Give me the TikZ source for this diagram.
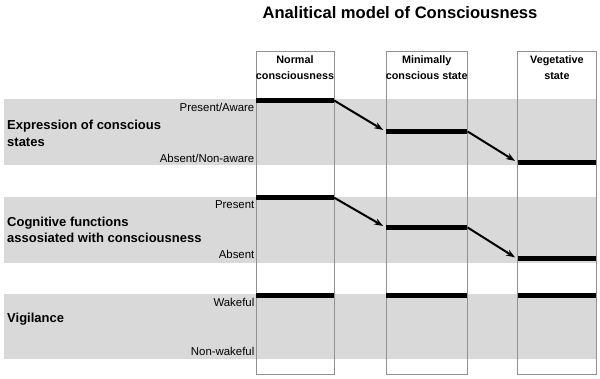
\documentclass[tikz,border=0pt]{standalone}
\usepackage{fontspec}
\setmainfont{Liberation Sans}
\usepackage{tikz}
\newcommand{\barheight}{5pt}
\newcommand{\colheight}{322.6pt}
\definecolor{bandGray}{RGB}{217,217,217}
\definecolor{boxGray}{RGB}{145,145,145}
\usetikzlibrary{arrows.meta,positioning}
\tikzset{
  x=1pt,y=-1pt,
  band/.style={fill=bandGray,draw=none},
  colbox/.style={draw=boxGray,line width=0.9pt,shape=rectangle,minimum height=\colheight,inner sep=0},
  colhead/.style={font=\fontsize{10.8}{16}\selectfont\bfseries,align=center,inner sep=0},
  levelbar/.style={fill=black,shape=rectangle,minimum height=\barheight,inner sep=0},
  level/.style={font=\fontsize{11.4}{13}\selectfont,anchor=east,inner sep=0},
  dimension/.style={font=\fontsize{13}{16.3}\selectfont\bfseries,align=left,anchor=west,inner sep=0},
  change/.style={draw,line width=2pt,-{Stealth[length=9pt,width=6.5pt]},shorten >=3pt},
}
\begin{document}
\begin{tikzpicture}
  \useasboundingbox (0,0) rectangle (600,379);
  \node (title) at (400,13) {\fontsize{16.6}{20}\selectfont\bfseries Analitical model of Consciousness};

  \fill[band] (4,99) rectangle (597,165);
  \fill[band] (4,196.7) rectangle (597,262.7);
  \fill[band] (4,294) rectangle (597,359.3);

  \node (nc) [colbox,minimum width=78pt] at (295,213) {};
  \node (mcs) [colbox,minimum width=81.5pt] at (426.7,213) {};
  \node (vs) [colbox,minimum width=78.3pt] at (556.9,213) {};
  \node (nchead) [colhead,below=4.3pt of nc.north] {Normal\\consciousness};
  \node (mcshead) [colhead,below=4.3pt of mcs.north] {Minimally\\conscious state};
  \node (vshead) [colhead,below=4.3pt of vs.north] {Vegetative\\state};

  \node (expr) [dimension] at (7,133.3) {Expression of conscious\\states};
  \node (cogn) [dimension] at (7,229.7) {Cognitive functions\\assosiated with consciousness};
  \node (vigi) [dimension] at (7,319) {Vigilance};

  \node (exprhi) [level] at (254.5,107) {Present/Aware};
  \node (exprlo) [level] at (254.5,158) {Absent/Non-aware};
  \node (cognhi) [level] at (254.5,205) {Present};
  \node (cognlo) [level] at (254.5,254) {Absent};
  \node (vigihi) [level] at (254.5,302.5) {Wakeful};
  \node (vigilo) [level] at (254.5,351) {Non-wakeful};

  \node (ncexpr) [levelbar,minimum width=78pt] at (nc |- 0,100.5) {};
  \node (mcsexpr) [levelbar,minimum width=81.5pt] at (mcs |- 0,131.5) {};
  \node (vsexpr) [levelbar,minimum width=78.3pt] at (vs |- 0,162.5) {};
  \node (nccogn) [levelbar,minimum width=78pt] at (nc |- 0,197.7) {};
  \node (mcscogn) [levelbar,minimum width=81.5pt] at (mcs |- 0,227.5) {};
  \node (vscogn) [levelbar,minimum width=78.3pt] at (vs |- 0,259) {};
  \node (ncvigi) [levelbar,minimum width=78pt] at (nc |- 0,296) {};
  \node (mcsvigi) [levelbar,minimum width=81.5pt] at (mcs |- 0,296) {};
  \node (vsvigi) [levelbar,minimum width=78.3pt] at (vs |- 0,296) {};

  \draw[change] (ncexpr.east) -- (mcsexpr.west);
  \draw[change] (mcsexpr.east) -- (vsexpr.west);
  \draw[change] (nccogn.east) -- (mcscogn.west);
  \draw[change] (mcscogn.east) -- (vscogn.west);
\end{tikzpicture}
\end{document}
